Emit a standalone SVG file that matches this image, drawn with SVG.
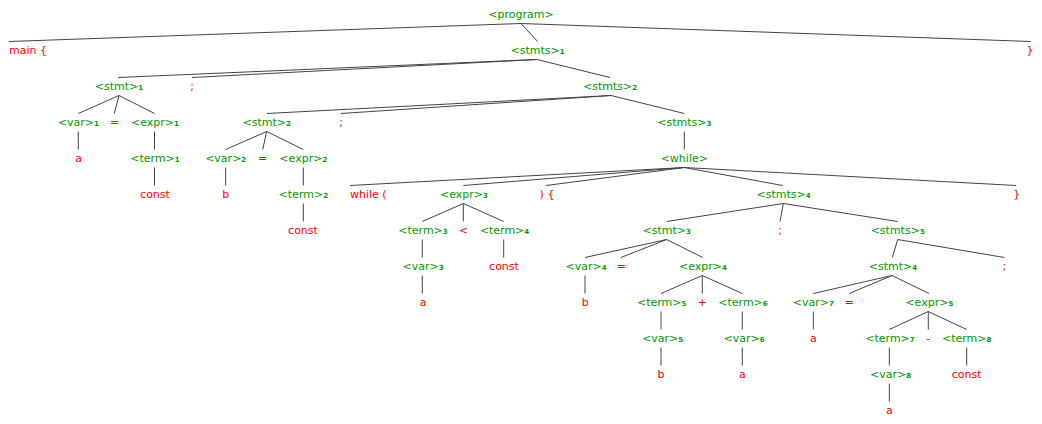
<svg xmlns="http://www.w3.org/2000/svg" width="1042" height="424" viewBox="0 0 1042 424">
  <style>
    text { font-family: "DejaVu Sans", "Liberation Sans", sans-serif; font-size: 11px; text-anchor: middle; }
    .n { fill: #009900; }
    .t { fill: #ff0000; }
    .l { text-anchor: start; }
    .s { font-size: 7px; font-weight: bold; }
    #edges line { stroke: #444; stroke-width: 1; }
  </style>
  <rect width="1042" height="424" fill="#ffffff"/>

  <!-- parse tree edges: parent bottom to child top -->
  <g id="edges">
    <line x1="521" y1="23.5" x2="9" y2="41.5"/>
    <line x1="521" y1="23.5" x2="537.7" y2="41.5"/>
    <line x1="521" y1="23.5" x2="1030.7" y2="41.5"/>

    <line x1="537" y1="59.5" x2="118" y2="77.5"/>
    <line x1="537" y1="59.5" x2="192" y2="77.5"/>
    <line x1="537" y1="59.5" x2="610" y2="77.5"/>

    <line x1="119" y1="95.5" x2="78.3" y2="113.5"/>
    <line x1="119" y1="95.5" x2="114.3" y2="113.5"/>
    <line x1="119" y1="95.5" x2="154.5" y2="113.5"/>
    <line x1="611" y1="95.5" x2="266.7" y2="113.5"/>
    <line x1="611" y1="95.5" x2="341" y2="113.5"/>
    <line x1="611" y1="95.5" x2="684.3" y2="113.5"/>

    <line x1="78.3" y1="131.5" x2="78.3" y2="149.5"/>
    <line x1="154.5" y1="131.5" x2="154.5" y2="149.5"/>
    <line x1="266.7" y1="131.5" x2="225.7" y2="149.5"/>
    <line x1="266.7" y1="131.5" x2="262.7" y2="149.5"/>
    <line x1="266.7" y1="131.5" x2="303.3" y2="149.5"/>
    <line x1="684.3" y1="131.5" x2="684.3" y2="149.5"/>

    <line x1="154.5" y1="167.5" x2="154.5" y2="185.5"/>
    <line x1="225.7" y1="167.5" x2="225.7" y2="185.5"/>
    <line x1="303.3" y1="167.5" x2="303.3" y2="185.5"/>
    <line x1="684.3" y1="167.5" x2="350" y2="185.5"/>
    <line x1="684.3" y1="167.5" x2="463.3" y2="185.5"/>
    <line x1="684.3" y1="167.5" x2="546" y2="185.5"/>
    <line x1="684.3" y1="167.5" x2="782.7" y2="185.5"/>
    <line x1="684.3" y1="167.5" x2="1016" y2="185.5"/>

    <line x1="303.3" y1="203.5" x2="303.3" y2="221.5"/>
    <line x1="463.3" y1="203.5" x2="422.3" y2="221.5"/>
    <line x1="463.3" y1="203.5" x2="463.3" y2="221.5"/>
    <line x1="463.3" y1="203.5" x2="503.7" y2="221.5"/>
    <line x1="783.3" y1="203.5" x2="666.7" y2="221.5"/>
    <line x1="783.3" y1="203.5" x2="780" y2="221.5"/>
    <line x1="783.3" y1="203.5" x2="897.7" y2="221.5"/>

    <line x1="422.3" y1="239.5" x2="422.3" y2="257.5"/>
    <line x1="503.7" y1="239.5" x2="503.7" y2="257.5"/>
    <line x1="666.7" y1="239.5" x2="585" y2="257.5"/>
    <line x1="666.7" y1="239.5" x2="621" y2="257.5"/>
    <line x1="666.7" y1="239.5" x2="702.7" y2="257.5"/>
    <line x1="897.7" y1="239.5" x2="892.3" y2="257.5"/>
    <line x1="897.7" y1="239.5" x2="1004.3" y2="257.5"/>

    <line x1="422.3" y1="275.5" x2="422.3" y2="293.5"/>
    <line x1="585" y1="275.5" x2="585" y2="293.5"/>
    <line x1="702.3" y1="275.5" x2="661" y2="293.5"/>
    <line x1="702.3" y1="275.5" x2="702.3" y2="293.5"/>
    <line x1="702.3" y1="275.5" x2="742.3" y2="293.5"/>
    <line x1="892" y1="275.5" x2="813.3" y2="293.5"/>
    <line x1="892" y1="275.5" x2="849.3" y2="293.5"/>
    <line x1="892" y1="275.5" x2="929" y2="293.5"/>

    <line x1="661" y1="311.5" x2="661" y2="329.5"/>
    <line x1="742.3" y1="311.5" x2="742.3" y2="329.5"/>
    <line x1="813.3" y1="311.5" x2="813.3" y2="329.5"/>
    <line x1="928.3" y1="311.5" x2="889.3" y2="329.5"/>
    <line x1="928.3" y1="311.5" x2="928.3" y2="329.5"/>
    <line x1="928.3" y1="311.5" x2="966.7" y2="329.5"/>

    <line x1="661" y1="347.5" x2="661" y2="365.5"/>
    <line x1="742.3" y1="347.5" x2="742.3" y2="365.5"/>
    <line x1="889.3" y1="347.5" x2="889.3" y2="365.5"/>
    <line x1="966.7" y1="347.5" x2="966.7" y2="365.5"/>

    <line x1="889.3" y1="383.5" x2="889.3" y2="401.5"/>
  </g>

  <!-- row 0 -->
  <g id="program"><text class="n" x="521" y="18">&lt;program&gt;</text></g>
  <!-- row 1 -->
  <g id="main-open"><text class="t l" x="9" y="54">main {</text></g>
  <g id="stmts1"><text class="n" x="537.5" y="54">&lt;stmts&gt;<tspan class="s">1</tspan></text></g>
  <g id="main-close"><text class="t" x="1030" y="54">}</text></g>
  <!-- row 2 -->
  <g id="stmt1"><text class="n" x="119" y="90">&lt;stmt&gt;<tspan class="s">1</tspan></text></g>
  <g id="semi1"><text class="t" x="192" y="90">;</text></g>
  <g id="stmts2"><text class="n" x="610" y="90">&lt;stmts&gt;<tspan class="s">2</tspan></text></g>
  <!-- row 3 -->
  <g id="var1"><text class="n" x="78.3" y="126">&lt;var&gt;<tspan class="s">1</tspan></text></g>
  <g id="eq1"><text class="t" x="114.5" y="126">=</text></g>
  <g id="expr1"><text class="n" x="155" y="126">&lt;expr&gt;<tspan class="s">1</tspan></text></g>
  <g id="stmt2"><text class="n" x="266.7" y="126">&lt;stmt&gt;<tspan class="s">2</tspan></text></g>
  <g id="semi2"><text class="t" x="341" y="126">;</text></g>
  <g id="stmts3"><text class="n" x="684.3" y="126">&lt;stmts&gt;<tspan class="s">3</tspan></text></g>
  <!-- row 4 -->
  <g id="a1"><text class="t" x="78.5" y="162">a</text></g>
  <g id="term1"><text class="n" x="155" y="162">&lt;term&gt;<tspan class="s">1</tspan></text></g>
  <g id="var2"><text class="n" x="225.7" y="162">&lt;var&gt;<tspan class="s">2</tspan></text></g>
  <g id="eq2"><text class="t" x="262.7" y="162">=</text></g>
  <g id="expr2"><text class="n" x="303.3" y="162">&lt;expr&gt;<tspan class="s">2</tspan></text></g>
  <g id="while"><text class="n" x="684.3" y="162">&lt;while&gt;</text></g>
  <!-- row 5 -->
  <g id="const1"><text class="t" x="155" y="198">const</text></g>
  <g id="b1"><text class="t" x="225.7" y="198">b</text></g>
  <g id="term2"><text class="n" x="303.3" y="198">&lt;term&gt;<tspan class="s">2</tspan></text></g>
  <g id="while-open"><text class="t l" x="350" y="198">while (</text></g>
  <g id="expr3"><text class="n" x="464" y="198">&lt;expr&gt;<tspan class="s">3</tspan></text></g>
  <g id="while-mid"><text class="t" x="547" y="198">) {</text></g>
  <g id="stmts4"><text class="n" x="783.5" y="198">&lt;stmts&gt;<tspan class="s">4</tspan></text></g>
  <g id="while-close"><text class="t" x="1016.7" y="198">}</text></g>
  <!-- row 6 -->
  <g id="const2"><text class="t" x="303" y="234">const</text></g>
  <g id="term3"><text class="n" x="423" y="234">&lt;term&gt;<tspan class="s">3</tspan></text></g>
  <g id="lt"><text class="t" x="463.3" y="234">&lt;</text></g>
  <g id="term4"><text class="n" x="504.5" y="234">&lt;term&gt;<tspan class="s">4</tspan></text></g>
  <g id="stmt3"><text class="n" x="666.7" y="234">&lt;stmt&gt;<tspan class="s">3</tspan></text></g>
  <g id="semi3"><text class="t" x="780" y="234">;</text></g>
  <g id="stmts5"><text class="n" x="897.7" y="234">&lt;stmts&gt;<tspan class="s">5</tspan></text></g>
  <!-- row 7 -->
  <g id="var3"><text class="n" x="423" y="270">&lt;var&gt;<tspan class="s">3</tspan></text></g>
  <g id="const3"><text class="t" x="504" y="270">const</text></g>
  <g id="var4"><text class="n" x="586" y="270">&lt;var&gt;<tspan class="s">4</tspan></text></g>
  <g id="eq3"><text class="t" x="621.3" y="270">=</text></g>
  <g id="expr4"><text class="n" x="703" y="270">&lt;expr&gt;<tspan class="s">4</tspan></text></g>
  <g id="stmt4"><text class="n" x="893" y="270">&lt;stmt&gt;<tspan class="s">4</tspan></text></g>
  <g id="semi4"><text class="t" x="1004.3" y="270">;</text></g>
  <!-- row 8 -->
  <g id="a2"><text class="t" x="423" y="306">a</text></g>
  <g id="b2"><text class="t" x="585.3" y="306">b</text></g>
  <g id="term5"><text class="n" x="661.7" y="306">&lt;term&gt;<tspan class="s">5</tspan></text></g>
  <g id="plus"><text class="t" x="702.3" y="306">+</text></g>
  <g id="term6"><text class="n" x="743" y="306">&lt;term&gt;<tspan class="s">6</tspan></text></g>
  <g id="var7"><text class="n" x="813.3" y="306">&lt;var&gt;<tspan class="s">7</tspan></text></g>
  <g id="eq4"><text class="t" x="849.3" y="306">=</text></g>
  <g id="expr5"><text class="n" x="929.3" y="306">&lt;expr&gt;<tspan class="s">5</tspan></text></g>
  <!-- row 9 -->
  <g id="var5"><text class="n" x="662.5" y="342">&lt;var&gt;<tspan class="s">5</tspan></text></g>
  <g id="var6"><text class="n" x="744" y="342">&lt;var&gt;<tspan class="s">6</tspan></text></g>
  <g id="a3"><text class="t" x="813.3" y="342">a</text></g>
  <g id="term7"><text class="n" x="890" y="342">&lt;term&gt;<tspan class="s">7</tspan></text></g>
  <g id="minus"><text class="t" x="928.3" y="342">-</text></g>
  <g id="term8"><text class="n" x="966.7" y="342">&lt;term&gt;<tspan class="s">8</tspan></text></g>
  <!-- row 10 -->
  <g id="b3"><text class="t" x="661" y="378">b</text></g>
  <g id="a4"><text class="t" x="742.3" y="378">a</text></g>
  <g id="var8"><text class="n" x="890.5" y="378">&lt;var&gt;<tspan class="s">8</tspan></text></g>
  <g id="const4"><text class="t" x="966.7" y="378">const</text></g>
  <!-- row 11 -->
  <g id="a5"><text class="t" x="889.3" y="414">a</text></g>
</svg>
